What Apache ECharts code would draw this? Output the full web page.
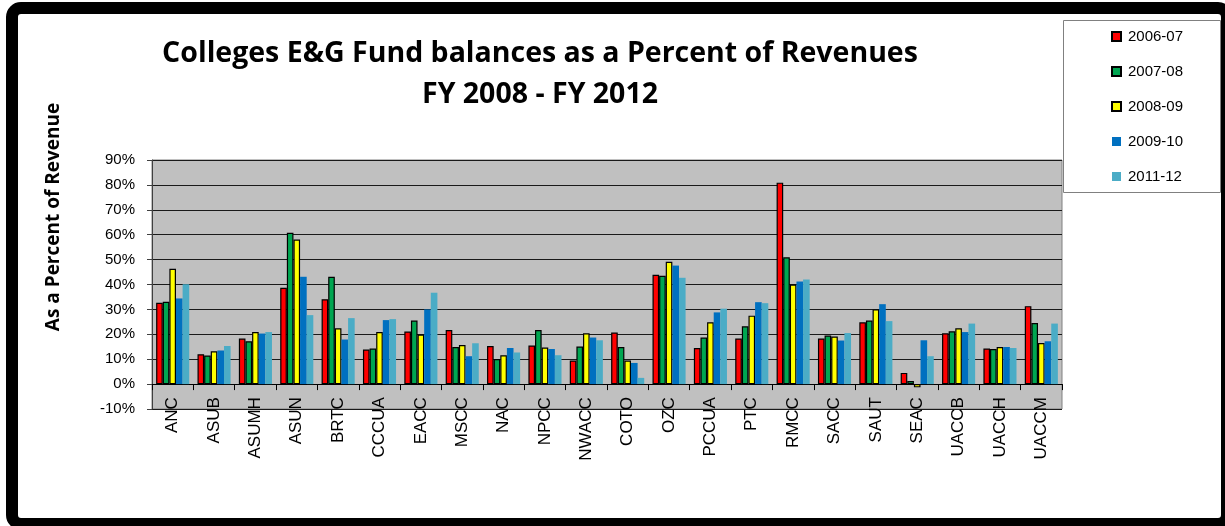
<!DOCTYPE html>
<html>
<head>
<meta charset="utf-8">
<script src="https://cdn.jsdelivr.net/npm/echarts@6/dist/echarts.min.js"></script>
<style>
html,body{margin:0;padding:0;background:#fff;}
#chart{width:1225px;height:526px;}
</style>
</head>
<body>
<div id="chart"></div>
<script>
const categories = ['ANC','ASUB','ASUMH','ASUN','BRTC','CCCUA','EACC','MSCC','NAC','NPCC','NWACC','COTO','OZC','PCCUA','PTC','RMCC','SACC','SAUT','SEAC','UACCB','UACCH','UACCM'];
const seriesNames = ['2006-07','2007-08','2008-09','2009-10','2011-12'];
const fy0607 = [32.7,12.0,18.3,38.7,34.1,13.9,21.1,21.7,15.3,15.5,9.5,20.7,43.9,14.5,18.3,80.9,18.3,24.8,4.5,20.4,14.3,31.3];
const fy0708 = [33.1,11.5,17.2,60.8,43.1,14.3,25.5,14.9,10.1,21.7,15.1,14.9,43.5,18.7,23.2,50.9,19.5,25.5,1.2,21.2,14.1,24.5];
const fy0809 = [46.3,13.2,20.9,58.1,22.4,20.9,19.9,15.7,11.6,14.7,20.4,9.5,49.1,24.8,27.5,40.0,19.1,30.0,-1.3,22.4,14.9,16.5];
const fy0910 = [34.4,13.5,20.3,43.1,17.9,25.7,30.0,11.2,14.5,14.1,18.7,8.5,47.6,28.8,32.9,41.2,17.5,32.1,17.6,20.9,14.9,17.2];
const fy1112 = [40.1,15.3,20.9,27.7,26.5,26.1,36.7,16.4,12.7,11.6,17.6,2.5,42.7,30.3,32.5,42.0,20.5,25.3,11.2,24.3,14.5,24.3];
const yTicks = {min:-10, max:90, interval:10};

const colors = ['#ff0000','#00a651','#ffff00','#0070c0','#4bacc6'];
const bordered = [true,true,true,false,false];
const allData = [fy0607,fy0708,fy0809,fy0910,fy1112];

const chart = echarts.init(document.getElementById('chart'), null, {renderer:'canvas'});
const series = seriesNames.map((n,i)=>({
  name:n, type:'bar', data:allData[i], xAxisIndex:0, yAxisIndex:0,
  barGap:'0%', barCategoryGap:'20%',
  itemStyle:{color:colors[i], borderColor:'#000', borderWidth:bordered[i]?1.2:0},
  emphasis:{disabled:true}
}));

// grid 0: plot area; grid 1: same width, bottom edge at the 0% line (carries the category axis)
const plotTop = 160, plotBottomPx = 409;
const zeroY = plotTop + (plotBottomPx - plotTop) * (yTicks.max / (yTicks.max - yTicks.min));

chart.setOption({
  animation:false,
  backgroundColor:'#ffffff',
  title:{
    text:'Colleges E&G Fund balances as a Percent of Revenues\nFY 2008 - FY 2012',
    left:535, top:28, textAlign:'center',
    textStyle:{fontFamily:'Open Sans', fontWeight:'bold', fontSize:28.5, lineHeight:41, color:'#000'}
  },
  legend:{
    orient:'vertical', left:1106, top:24,
    itemWidth:9, itemHeight:9, itemGap:20,
    icon:'rect',
    textStyle:{fontFamily:'Liberation Sans', fontSize:15, color:'#000', padding:[0,0,0,2]},
    data:seriesNames
  },
  grid:[
    {left:152, top:plotTop, right:163, bottom:526-plotBottomPx, show:true, backgroundColor:'#c0c0c0', borderColor:'#808080', borderWidth:1, containLabel:false},
    {left:152, top:plotTop, right:163, bottom:526-zeroY, show:false, containLabel:false}
  ],
  xAxis:[{
    gridIndex:0, type:'category', data:categories, position:'bottom',
    axisLine:{show:false}, axisTick:{show:false}, axisLabel:{show:false}
  },{
    gridIndex:1, type:'category', data:categories, position:'bottom',
    axisLine:{show:true, onZero:false, lineStyle:{color:'#000', width:1}},
    axisTick:{show:true, length:6, lineStyle:{color:'#000'}},
    axisLabel:{rotate:90, margin:13, fontFamily:'Liberation Sans', fontSize:17, color:'#000', interval:0}
  }],
  yAxis:[{
    gridIndex:0, type:'value', min:yTicks.min, max:yTicks.max, interval:yTicks.interval,
    axisLine:{show:true, lineStyle:{color:'#404040'}},
    axisTick:{show:true, length:5, lineStyle:{color:'#404040'}},
    axisLabel:{formatter:'{value}%', fontFamily:'Liberation Sans', fontSize:15, color:'#000', margin:17},
    splitLine:{show:true, lineStyle:{color:'#1a1a1a', width:1}}
  },{
    gridIndex:1, type:'value', min:0, max:yTicks.max, show:false
  }],
  graphic:[
    {type:'rect', z:1, shape:{x:1063.5, y:20.5, width:157, height:172}, style:{fill:'#fff', stroke:'#808080', lineWidth:1}},
    {type:'text', z:5, x:54, y:217, rotation:Math.PI/2,
      style:{text:'As a Percent of Revenue', fontFamily:'Open Sans', fontWeight:'bold', fontSize:19, fill:'#000', align:'center', verticalAlign:'middle'}},
    {type:'rect', z:10, shape:{x:12, y:8, width:1215, height:516, r:9}, style:{fill:'none', stroke:'#000', lineWidth:12}}
  ],
  series:series
});
</script>
</body>
</html>
